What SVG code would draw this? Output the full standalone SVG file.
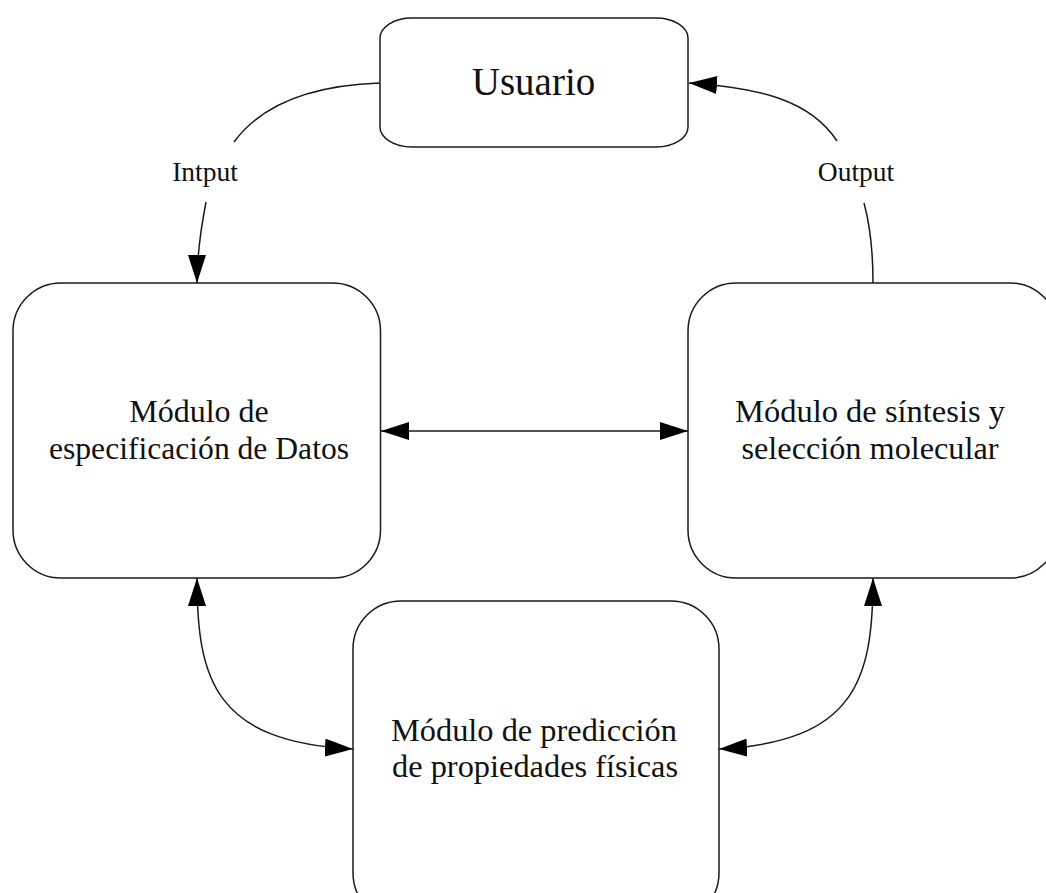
<svg xmlns="http://www.w3.org/2000/svg" width="1046" height="893" viewBox="0 0 1046 893">
<defs>
<marker id="ah" viewBox="0 0 28 18" refX="28" refY="9" markerUnits="userSpaceOnUse" markerWidth="28" markerHeight="18" orient="auto-start-reverse"><path d="M0 0L28 9L0 18Z" fill="#000"/></marker>
</defs>
<style>
.n{fill:#fff;stroke:#1a1a1a;stroke-width:1.5}
.c{fill:none;stroke:#1a1a1a;stroke-width:1.5}
text{font-family:"Liberation Serif","Times New Roman",serif;fill:#111;text-anchor:middle}
.t{font-size:32px}
.l{font-size:27.5px}
</style>
<rect width="1046" height="893" fill="#fff"/>
<g id="connectors">
<path class="c" d="M380 83C320 85 265 100 234 142"/>
<path class="c" d="M206 202C201 228 197 255 197 283" marker-end="url(#ah)"/>
<path class="c" d="M873 283C873 250 870 225 864 203"/>
<path class="c" d="M837 141C810 100 760 88 689 83" marker-end="url(#ah)"/>
<path class="c" d="M381 431H688" marker-start="url(#ah)" marker-end="url(#ah)"/>
<path class="c" d="M197 578C197 680 215 742 353 749" marker-start="url(#ah)" marker-end="url(#ah)"/>
<path class="c" d="M873 578C873 680 855 742 719 749" marker-start="url(#ah)" marker-end="url(#ah)"/>
</g>
<g id="usuario"><rect class="n" x="380" y="18" width="308" height="129" rx="32" ry="20"/><text x="533.5" y="95" style="font-size:39px">Usuario</text></g>
<g id="datos"><rect class="n" x="13" y="283" width="367.500" height="295" rx="48"/><text class="t" x="199" y="422">Módulo de</text><text class="t" x="199" y="459" textLength="300" lengthAdjust="spacingAndGlyphs">especificación de Datos</text></g>
<g id="sintesis"><rect class="n" x="688" y="283" width="370" height="295" rx="48"/><text class="t" x="870" y="422" textLength="270" lengthAdjust="spacingAndGlyphs">Módulo de síntesis y</text><text class="t" x="870" y="459" textLength="257" lengthAdjust="spacingAndGlyphs">selección molecular</text></g>
<g id="prediccion"><rect class="n" x="353" y="601" width="366" height="320" rx="48"/><text class="t" x="534" y="741" textLength="286" lengthAdjust="spacingAndGlyphs">Módulo de predicción</text><text class="t" x="535" y="777" textLength="286" lengthAdjust="spacingAndGlyphs">de propiedades físicas</text></g>
<g id="labels"><text class="l" x="205" y="181">Intput</text><text class="l" x="856" y="181">Output</text></g>
</svg>
